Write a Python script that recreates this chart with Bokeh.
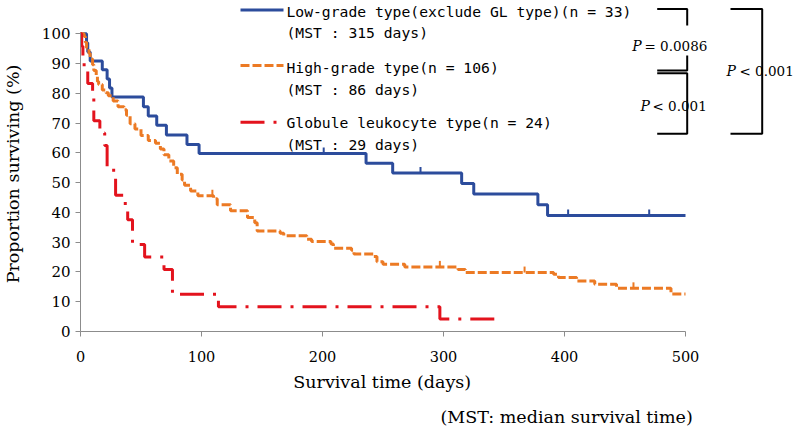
import math
import numpy as np
from bokeh.plotting import figure
from bokeh.models import Range1d, FixedTicker, Label
from bokeh.embed import file_html
from bokeh.resources import INLINE

# ---------------- data ----------------
blue_t = [0, 5, 6, 8, 18, 22, 24, 26, 52, 56, 63, 71, 88, 98, 236, 258, 315, 325, 378, 386, 500]
blue_s = [100, 97.0, 93.9, 90.9, 87.9, 84.8, 81.8, 78.8, 75.5, 72.4, 69.3, 66.0, 62.8, 59.8,
          56.5, 53.2, 49.7, 46.2, 42.6, 39.0, 39.0]
blue_cens = [201, 281, 403, 470]

orange_t = [0, 3, 4, 5, 7, 8, 10, 11, 13, 14, 15, 18, 21, 23, 27, 31, 36, 38, 41, 45,
            50, 56, 62, 66, 69, 73, 77, 80, 84, 86, 91, 97, 110, 113, 124, 138, 144, 146, 165, 168,
            187, 191, 207, 209, 224, 226, 242, 245, 250, 268, 312, 318, 391, 395, 410, 425, 443, 488, 500]
orange_s = [100, 99.1, 97.2, 95.3, 93.4, 91.5, 89.6, 87.7, 85.8, 84.0, 83.0, 81.1, 80.2, 79.2, 77.4,
            75.5, 74.5, 72.6, 69.8, 68.0, 65.8, 64.2, 63.2, 61.3, 59.4, 57.3, 55.0, 52.8, 50.9, 49.1,
            47.2, 45.6, 44.6, 42.6, 40.6, 38.3, 36.5, 33.8, 33.0, 32.2, 31.0, 30.2, 29.4, 28.0, 27.3,
            26.0, 25.2, 23.4, 22.6, 21.7, 20.8, 19.8, 19.2, 18.1, 17.0, 15.9, 14.5, 12.6, 12.6]
orange_cens = [109, 297, 367, 457]

red_t = [0, 1, 2, 3, 6, 10, 11, 16, 20, 22, 29, 37, 39, 43, 53, 69, 76, 114, 297, 343]
red_s = [100, 95.8, 91.7, 87.5, 83.3, 79.2, 70.8, 66.7, 62.5, 54.2, 45.8, 41.7, 37.5, 29.2,
         25.0, 20.8, 12.5, 8.3, 4.2, 4.2]

series_names = ["Low-grade type(exclude GL type)(n = 33)",
                "High-grade type(n = 106)",
                "Globule leukocyte type(n = 24)"]
mst_labels = ["(MST : 315 days)", "(MST : 86 days)", "(MST : 29 days)"]
x_ticks = [0, 100, 200, 300, 400, 500]
y_ticks = [0, 10, 20, 30, 40, 50, 60, 70, 80, 90, 100]
p_texts = [("P", "= 0.0086"), ("P", "< 0.001"), ("P", "< 0.001")]
x_title = "Survival time (days)"
y_title = "Proportion surviving (%)"
note_text = "(MST: median survival time)"

# ---------------- styling / layout ----------------
BLUE, ORANGE, RED = "#2C4C9C", "#EC7A24", "#E3131D"
SERIF = "DejaVu Serif"
MONO = "DejaVu Sans Mono"
W, H = 797, 428
OX, OY = 80, 331      # canvas pixel of the data origin (0 days, 0 %)
PXD = 1.21            # pixels per day
PXP = 2.977           # pixels per percent
BL = 5                # baseline correction for label placement (px)


def dx(px):
    return (px - OX) / PXD


def dy(py):
    return (OY - py) / PXP


p = figure(width=W, height=H, output_backend="svg", toolbar_location=None,
           x_range=Range1d(dx(0), dx(W)), y_range=Range1d(dy(H), dy(0)),
           min_border_left=0, min_border_right=0, min_border_top=0, min_border_bottom=0)
p.outline_line_color = None
p.xgrid.visible = False
p.ygrid.visible = False
p.background_fill_color = "white"
p.border_fill_color = "white"

for ax in (p.xaxis[0], p.yaxis[0]):
    ax.fixed_location = 0
    ax.axis_line_color = "#8C8C8C"
    ax.major_tick_line_color = "#8C8C8C"
    ax.minor_tick_line_color = None
    ax.major_tick_in = 0
    ax.major_tick_out = 5
    ax.major_label_text_font = SERIF
    ax.major_label_text_color = "black"

p.xaxis.ticker = FixedTicker(ticks=x_ticks)
p.xaxis.bounds = (x_ticks[0], x_ticks[-1])
p.xaxis.major_label_text_font_size = "14.5px"
p.xaxis.major_label_standoff = 14

p.yaxis.ticker = FixedTicker(ticks=y_ticks)
p.yaxis.bounds = (y_ticks[0], y_ticks[-1])
p.yaxis.major_label_text_font_size = "15px"
p.yaxis.major_label_standoff = 5

title_kw = dict(text_font=SERIF, text_font_size="17.5px", text_color="black")
p.add_layout(Label(x=dx(12), y=dy(173.5), text=y_title, angle=math.pi / 2,
                   text_align="center", text_baseline="middle", **title_kw))
p.add_layout(Label(x=dx(381.7), y=dy(386.7 - BL), text=x_title,
                   text_align="center", text_baseline="alphabetic", **title_kw))
p.add_layout(Label(x=dx(440), y=dy(422 - BL - 1), text=note_text,
                   text_align="left", text_baseline="alphabetic", **title_kw))

# ---------------- curves ----------------
styles = [
    dict(line_color=BLUE, line_width=3),
    dict(line_color=ORANGE, line_width=3, line_dash="9 3"),
    dict(line_color=RED, line_width=3, line_dash="24 9 3 9"),
]
curves = [(blue_t, blue_s), (orange_t, orange_s), (red_t, red_s)]
for (t, s), st in zip(curves, styles):
    p.step(t, s, mode="after", **st)


def censor_levels(t, s, c):
    idx = np.searchsorted(np.asarray(t), np.asarray(c), side="right") - 1
    return [s[i] for i in idx]


TICK = 6 / PXP
for t, s, c, col in [(blue_t, blue_s, blue_cens, BLUE), (orange_t, orange_s, orange_cens, ORANGE)]:
    lv = censor_levels(t, s, c)
    p.segment(x0=c, y0=lv, x1=c, y1=[v + TICK for v in lv], line_color=col, line_width=2)

# ---------------- legend ----------------
swatch_y = [9.5, 65, 121.7]
name_base = [15.5, 71.7, 126.7]
mst_base = [37.3, 94, 149.3]
for i, st in enumerate(styles):
    p.line([dx(240), dx(283)], [dy(swatch_y[i])] * 2, **st)
    p.add_layout(Label(x=dx(286), y=dy(name_base[i] - BL), text=series_names[i], text_font=MONO,
                       text_font_size="14.7px", text_color="black", text_baseline="alphabetic"))
    p.add_layout(Label(x=dx(286), y=dy(mst_base[i] - BL), text=mst_labels[i], text_font=MONO,
                       text_font_size="14.7px", text_color="black", text_baseline="alphabetic"))

# ---------------- significance brackets ----------------
bx0, bx1 = dx(656.7), dx(686.7)
cx0, cx1 = dx(730), dx(761.7)
ytop, ymidA, ymidB, ybot = dy(8.5), dy(70), dy(72.7), dy(133.3)
br_x = [[bx0, bx1, bx1], [bx1, bx1, bx0], [bx0, bx1, bx1, bx0], [cx0, cx1, cx1, cx0]]
br_y = [[ytop, ytop, dy(25)], [dy(55), ymidA, ymidA], [ymidB, ymidB, ybot, ybot], [ytop, ytop, ybot, ybot]]
p.multi_line(br_x, br_y, line_color="black", line_width=2)

p_pos = [(631.7, 644, 50.7), (640, 652, 110.7), (726, 739, 75)]
for (pt, rest), (x1, x2, yb) in zip(p_texts, p_pos):
    p.add_layout(Label(x=dx(x1), y=dy(yb - BL), text=pt, text_font=SERIF, text_font_style="italic",
                       text_font_size="14px", text_color="black", text_baseline="alphabetic"))
    p.add_layout(Label(x=dx(x2), y=dy(yb - BL), text=rest, text_font=SERIF,
                       text_font_size="13.5px", text_color="black", text_baseline="alphabetic"))

open("out.html", "w").write(file_html(p, INLINE))
